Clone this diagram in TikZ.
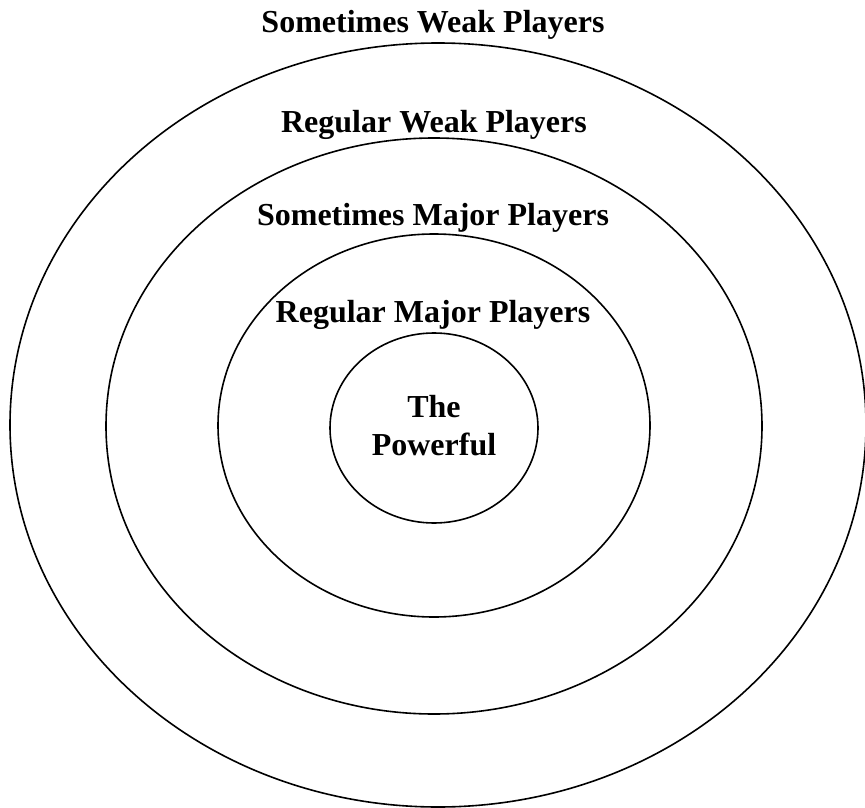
\documentclass[tikz,border=0pt]{standalone}
\usepackage{fontspec}
\setmainfont{Liberation Serif}
\begin{document}
\begin{tikzpicture}[x=1pt, y=-1pt, ring/.style={line width=1.6pt},
    lbl/.style={font=\bfseries\fontsize{32}{38}\selectfont, align=center, inner sep=0pt}]
      \useasboundingbox (0, 0) rectangle (865, 808);

      % Rings, outer to inner
      \draw[ring] (438, 425) ellipse [x radius=428, y radius=382];
      \draw[ring] (434, 426) ellipse [x radius=328, y radius=288];
      \draw[ring] (434, 425.5) ellipse [x radius=216, y radius=191.5];
      \draw[ring] (434, 428) ellipse [x radius=104, y radius=95];

      % Labels
      \node[lbl, anchor=base] (sweak) at (433, 33) {Sometimes Weak Players};
      \node[lbl, anchor=base] (rweak) at (434, 132) {Regular Weak Players};
      \node[lbl, anchor=base] (smajor) at (433, 225) {Sometimes Major Players};
      \node[lbl, anchor=base] (rmajor) at (433, 322) {Regular Major Players};
      \node[lbl, anchor=base] (core) at (434, 455) {The\\Powerful};
    \end{tikzpicture}
\end{document}
